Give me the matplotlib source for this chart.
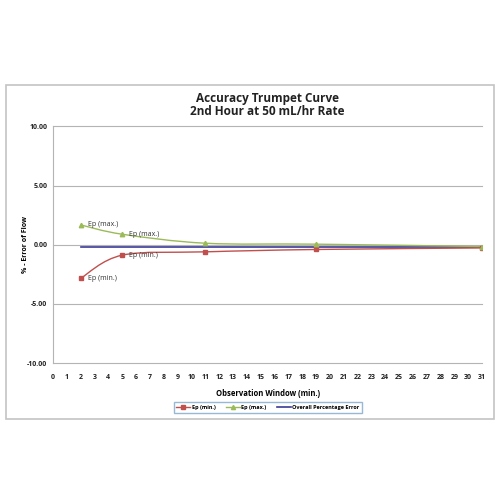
import numpy as np
import matplotlib.pyplot as plt
from matplotlib.path import Path
from matplotlib.patches import PathPatch, Rectangle
from matplotlib.lines import Line2D

plt.rcParams['font.family'] = ['Open Sans', 'DejaVu Sans']

# Datos
window_min = [2, 5, 11, 19, 31]
ep_min = [-2.84, -0.88, -0.6, -0.4, -0.27]
ep_max = [1.68, 0.89, 0.13, 0.05, -0.15]
overall_error = -0.22
overall_x = [2, 31]

x_ticks = list(range(0, 32))
y_ticks = [-10, -5, 0, 5, 10]

RED = '#C0504D'
GREEN = '#9BBB59'
BLUE = '#3A3A96'
GRID = '#B4B4B4'


# curva suavizada tipo Excel (Bezier entre puntos)
def smooth_path(xs, ys):
    pts = np.column_stack([xs, ys]).astype(float)
    verts = [pts[0]]
    codes = [Path.MOVETO]
    n = len(pts)
    for i in range(n - 1):
        p0 = pts[i - 1] if i > 0 else pts[i]
        p1 = pts[i]
        p2 = pts[i + 1]
        p3 = pts[i + 2] if i + 2 < n else pts[i + 1]
        c1 = p1 + (p2 - p0) / 6.0
        c2 = p2 - (p3 - p1) / 6.0
        verts += [c1, c2, p2]
        codes += [Path.CURVE4] * 3
    return Path(verts, codes)


fig = plt.figure(figsize=(5, 5), dpi=100)

# marco exterior
fig.patches.append(Rectangle((0.011, 0.162), 0.977, 0.669, transform=fig.transFigure,
                             fill=False, edgecolor='#C4C4C4', linewidth=1.2))

ax = fig.add_axes([0.106, 0.274, 0.858, 0.473])
ax.set_xlim(0, 31)
ax.set_ylim(-10, 10)

ax.add_patch(PathPatch(smooth_path(window_min, ep_min), fill=False,
                       edgecolor=RED, linewidth=1.0, zorder=3))
ax.add_patch(PathPatch(smooth_path(window_min, ep_max), fill=False,
                       edgecolor=GREEN, linewidth=1.0, zorder=3))
ax.plot(overall_x, [overall_error, overall_error], color=BLUE, linewidth=1.2, zorder=2)
ax.plot(window_min, ep_min, linestyle='none', marker='s', markersize=3.2,
        color=RED, zorder=4)
ax.plot(window_min, ep_max, linestyle='none', marker='^', markersize=3.2,
        color=GREEN, zorder=4)

for i in [0, 1]:
    ax.text(window_min[i] + 0.5, ep_max[i], 'Ep (max.)', fontsize=5, va='center',
            color='#333333')
    ax.text(window_min[i] + 0.5, ep_min[i], 'Ep (min.)', fontsize=5, va='center',
            color='#333333')

ax.set_yticks(y_ticks)
ax.set_yticklabels(['%.2f' % v for v in y_ticks])
ax.set_xticks(x_ticks)
ax.tick_params(axis='both', length=0, labelsize=5, pad=4)
ax.tick_params(axis='x', pad=8)
for lab in ax.get_xticklabels() + ax.get_yticklabels():
    lab.set_fontweight('bold')
    lab.set_color('#222222')

for v in y_ticks:
    ax.axhline(v, color=GRID, linewidth=0.8, clip_on=False, zorder=1)
for s in ['top', 'right', 'bottom']:
    ax.spines[s].set_visible(False)
ax.spines['left'].set_color(GRID)

ax.set_xlabel('Observation Window (min.)', fontsize=5.5, fontweight='bold', labelpad=6)
ax.set_ylabel('% - Error of Flow', fontsize=5, fontweight='bold', labelpad=-1)
ax.set_title('Accuracy Trumpet Curve\n2nd Hour at 50 mL/hr Rate', fontsize=8.5,
             fontweight='bold', pad=8, color='#222222', linespacing=1.05)

handles = [
    Line2D([], [], color=RED, marker='s', markersize=3, linewidth=1),
    Line2D([], [], color=GREEN, marker='^', markersize=3, linewidth=1),
    Line2D([], [], color=BLUE, linewidth=1.2),
]
leg = fig.legend(handles, ['Ep (min.)', 'Ep (max.)', 'Overall Percentage Error'],
                 loc='center', bbox_to_anchor=(0.536, 0.185), ncol=3, fontsize=4,
                 frameon=True, fancybox=False, edgecolor='#7FA7C9', handlelength=2.5,
                 handletextpad=0.3, columnspacing=1.8, borderpad=0.5)
for t in leg.get_texts():
    t.set_fontweight('bold')

fig.savefig('out.png', dpi=100, facecolor='white')
